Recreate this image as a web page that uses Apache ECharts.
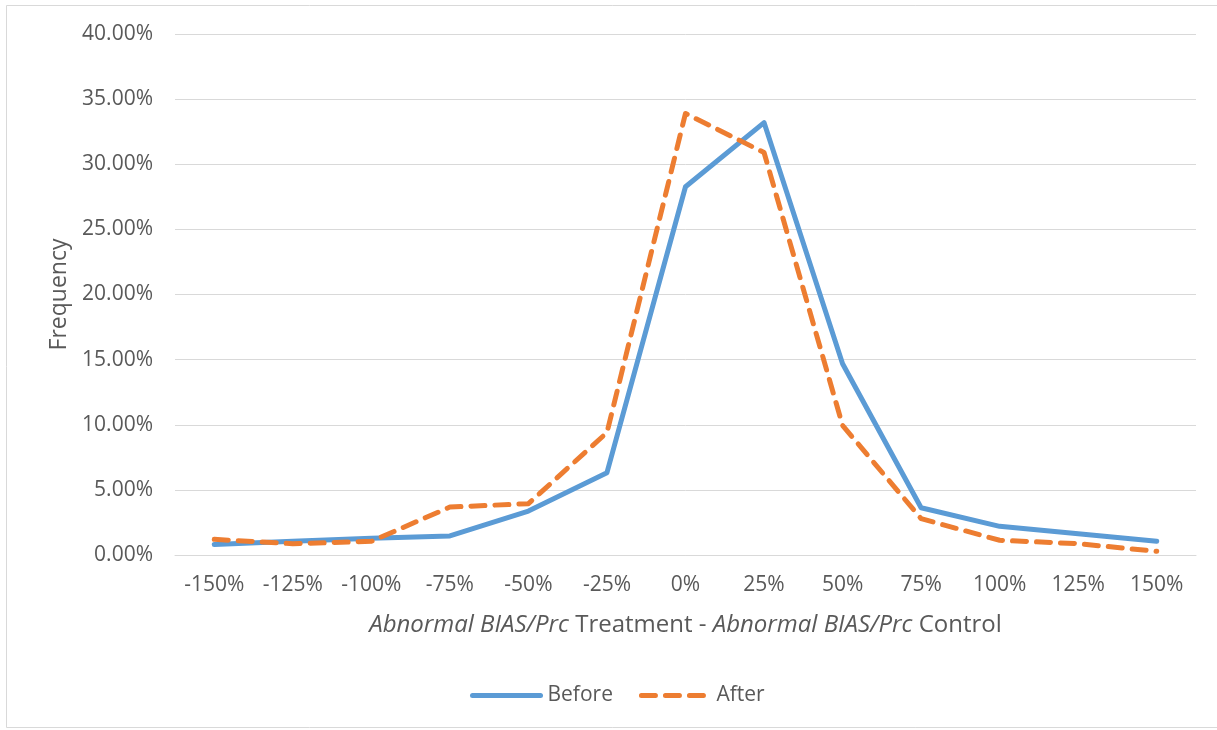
<!DOCTYPE html>
<html><head><meta charset="utf-8">
<script src="https://cdn.jsdelivr.net/npm/echarts@6/dist/echarts.min.js"></script>
<style>html,body{margin:0;padding:0;background:#fff}#c{width:1217px;height:730px}</style>
</head><body><div id="c"></div>
<script>
const categories = ['-150%','-125%','-100%','-75%','-50%','-25%','0%','25%','50%','75%','100%','125%','150%'];
const before = [0.80, 1.05, 1.28, 1.46, 3.37, 6.32, 28.27, 33.2, 14.68, 3.63, 2.2, 1.64, 1.05];
const after  = [1.20, 0.87, 1.05, 3.68, 3.94, 9.4, 33.9, 30.9, 9.95, 2.79, 1.13, 0.87, 0.28];
const yTicks = [0, 5, 10, 15, 20, 25, 30, 35, 40];

const font = '"Open Sans", sans-serif';
const chart = echarts.init(document.getElementById('c'), null, {renderer:'canvas'});
chart.setOption({
  animation: false,
  backgroundColor: '#fff',
  textStyle: {fontFamily: font, color: '#595959'},
  graphic: [{type:'rect', shape:{x:6.5, y:5.5, width:1215, height:722}, style:{fill:'none', stroke:'#d9d9d9', lineWidth:1}, silent:true}],
  grid: {left: 175, right: 21, top: 34, bottom: 175},
  legend: {
    top: 680, left: 465,
    itemWidth: 68, itemHeight: 14, itemGap: 26,
    itemStyle: {opacity: 0},
    lineStyle: {width: 5, cap: 'round'},
    textStyle: {fontFamily: font, fontSize: 21, color: '#595959', padding: [0, 0, 0, 2]},
    data: ['Before', 'After']
  },
  xAxis: {
    type: 'category', data: categories, boundaryGap: true,
    axisLine: {show: true, lineStyle: {color: '#d9d9d9', width: 1}},
    axisTick: {show: false},
    axisLabel: {fontFamily: font, fontSize: 21, color: '#595959', margin: 20, interval: 0},
    name: '{i|Abnormal BIAS/Prc} Treatment - {i|Abnormal BIAS/Prc} Control',
    nameLocation: 'middle', nameGap: 58,
    nameTextStyle: {fontFamily: font, fontSize: 24, color: '#595959',
      rich: {i: {fontFamily: font, fontSize: 24, fontStyle: 'italic', color: '#595959'}}}
  },
  yAxis: {
    type: 'value', min: yTicks[0], max: yTicks[yTicks.length-1], interval: 5,
    axisLine: {show: false}, axisTick: {show: false},
    splitLine: {lineStyle: {color: '#d9d9d9', width: 1}},
    axisLabel: {fontFamily: font, fontSize: 21, color: '#595959', margin: 22,
      formatter: v => v.toFixed(2) + '%'},
    name: 'Frequency', nameLocation: 'middle', nameGap: 98,
    nameTextStyle: {fontFamily: font, fontSize: 23, color: '#595959'}
  },
  series: [
    {name: 'Before', type: 'line', data: before, symbol: 'none',
     lineStyle: {color: '#5B9BD5', width: 5, cap:'round', join:'round'}, itemStyle:{color:'#5B9BD5'}},
    {name: 'After', type: 'line', data: after, symbol: 'none',
     lineStyle: {color: '#ED7D31', width: 5, type: [14, 10], cap: 'round', join:'round'}, itemStyle:{color:'#ED7D31'}}
  ]
});
</script></body></html>
